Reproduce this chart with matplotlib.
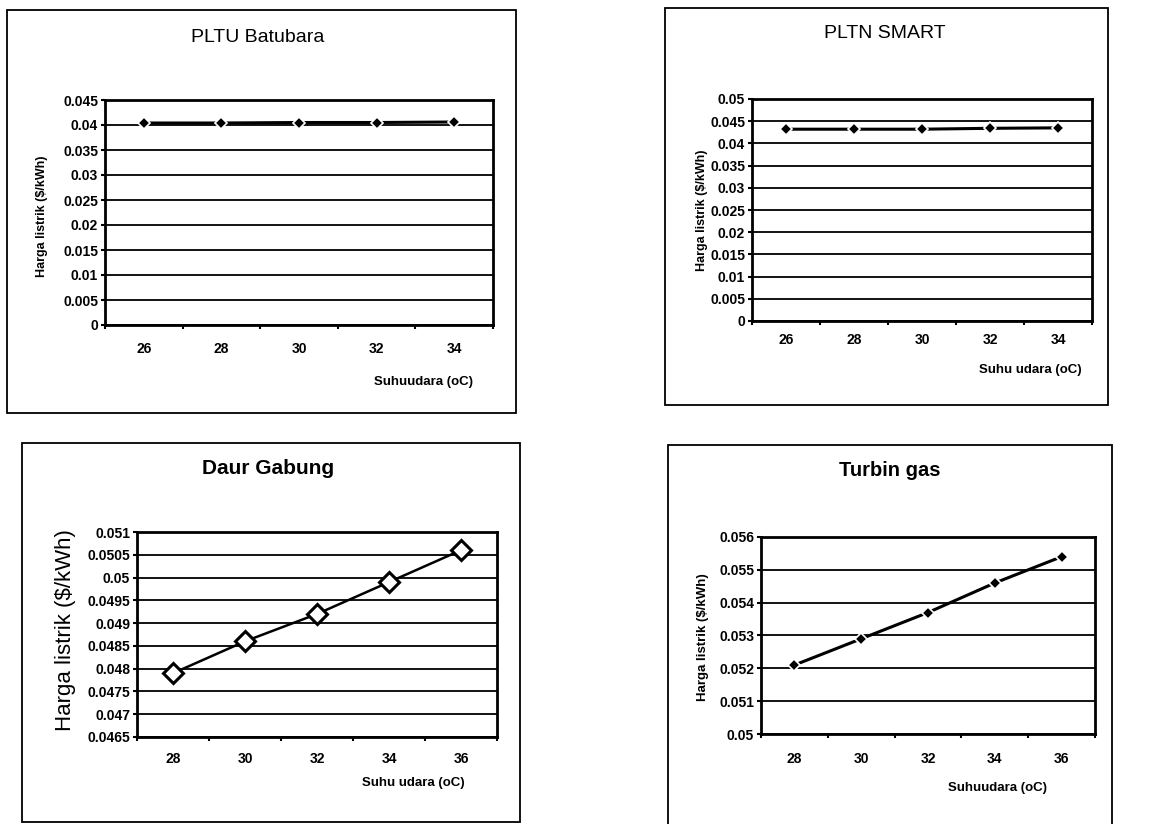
import numpy as np
import matplotlib
matplotlib.use('Agg')
import matplotlib.pyplot as plt
from matplotlib.patches import Rectangle
from matplotlib.ticker import FuncFormatter, FixedLocator

plt.rcParams['font.family'] = ['Liberation Sans', 'DejaVu Sans']

# data
suhu_a = [26, 28, 30, 32, 34]
pltu_batubara = [0.0404, 0.0404, 0.0405, 0.0405, 0.0406]
pltn_smart = [0.0432, 0.0432, 0.0432, 0.0434, 0.0435]

suhu_b = [28, 30, 32, 34, 36]
daur_gabung = [0.0479, 0.0486, 0.0492, 0.0499, 0.0506]
turbin_gas = [0.0521, 0.0529, 0.0537, 0.0546, 0.0554]

W, H = 1160, 824
fig = plt.figure(figsize=(W / 100, H / 100), dpi=100)


def fx(x):
    return x / W


def fy(y):
    return 1 - y / H


def box(l, t, r, b):
    fig.patches.append(Rectangle((fx(l), fy(b)), fx(r - l), (b - t) / H,
                                 transform=fig.transFigure, fill=False,
                                 edgecolor='black', linewidth=1.3))


def panel(ax_px, x, y, yticks, title, ttl_pos, ttl_size, ttl_bold,
          ylab_pos, ylab_size, ylab_bold, xlab, xlab_pos, xpad, open_marker=False):
    l, t, r, b = ax_px
    ax = fig.add_axes([fx(l), fy(b), fx(r - l), (b - t) / H])
    if open_marker:
        ax.plot(x, y, color='black', lw=1.8, marker='D', ms=10,
                mfc='white', mec='black', mew=2.2, zorder=3)
    else:
        ax.plot(x, y, color='black', lw=2.2, marker='D', ms=6.5,
                mfc='black', mec='white', mew=1.2, zorder=3)
    ax.set_xlim(x[0] - 1, x[-1] + 1)
    ax.set_ylim(yticks[0], yticks[-1])
    ax.set_yticks(yticks)
    ax.yaxis.set_major_formatter(FuncFormatter(lambda v, p: '%g' % round(v, 6)))
    ax.set_xticks(x)
    ax.xaxis.set_minor_locator(FixedLocator(np.arange(x[0] - 1, x[-1] + 2, 2)))
    ax.tick_params(axis='x', which='major', length=0, pad=xpad)
    ax.tick_params(axis='x', which='minor', length=3, width=1.5)
    ax.tick_params(axis='y', length=3, width=1.5, pad=2)
    for lab in ax.get_xticklabels() + ax.get_yticklabels():
        lab.set_fontsize(10)
        lab.set_fontweight('bold')
    ax.grid(axis='y', color='black', lw=1.3)
    ax.set_axisbelow(True)
    for s in ax.spines.values():
        s.set_linewidth(2)
    fig.text(fx(ttl_pos[0]), fy(ttl_pos[1]), title, ha='center', va='center',
             fontsize=ttl_size, fontweight='bold' if ttl_bold else 'normal')
    fig.text(fx(ylab_pos[0]), fy(ylab_pos[1]), 'Harga listrik ($/kWh)', ha='center',
             va='center', rotation=90, fontsize=ylab_size,
             fontweight='bold' if ylab_bold else 'normal')
    fig.text(fx(xlab_pos[0]), fy(xlab_pos[1]), xlab, ha='center', va='center',
             fontsize=9.5, fontweight='bold')
    return ax


box(7, 10, 516, 413)
box(665, 8, 1108, 405)
box(22, 443, 520, 822)
box(668, 445, 1112, 826)

panel((105, 100, 493, 325), suhu_a, pltu_batubara, np.arange(0, 0.0451, 0.005),
      'PLTU Batubara', (258, 37), 14, False, (42, 216), 9, True,
      'Suhuudara (oC)', (423, 382), 12)
panel((752, 99, 1092, 321), suhu_a, pltn_smart, np.arange(0, 0.0501, 0.005),
      'PLTN SMART', (885, 33), 14, False, (702, 210), 9, True,
      'Suhu udara (oC)', (1030, 370), 9)
panel((137, 532, 497, 737), suhu_b, daur_gabung, np.arange(0.0465, 0.05101, 0.0005),
      'Daur Gabung', (268, 468), 15, True, (65, 630), 16, False,
      'Suhu udara (oC)', (413, 783), 11, open_marker=True)
panel((761, 537, 1095, 734), suhu_b, turbin_gas, np.arange(0.05, 0.05601, 0.001),
      'Turbin gas', (890, 470), 14.5, True, (703, 637), 9.5, True,
      'Suhuudara (oC)', (998, 788), 13)

fig.savefig('out.png', dpi=100)
